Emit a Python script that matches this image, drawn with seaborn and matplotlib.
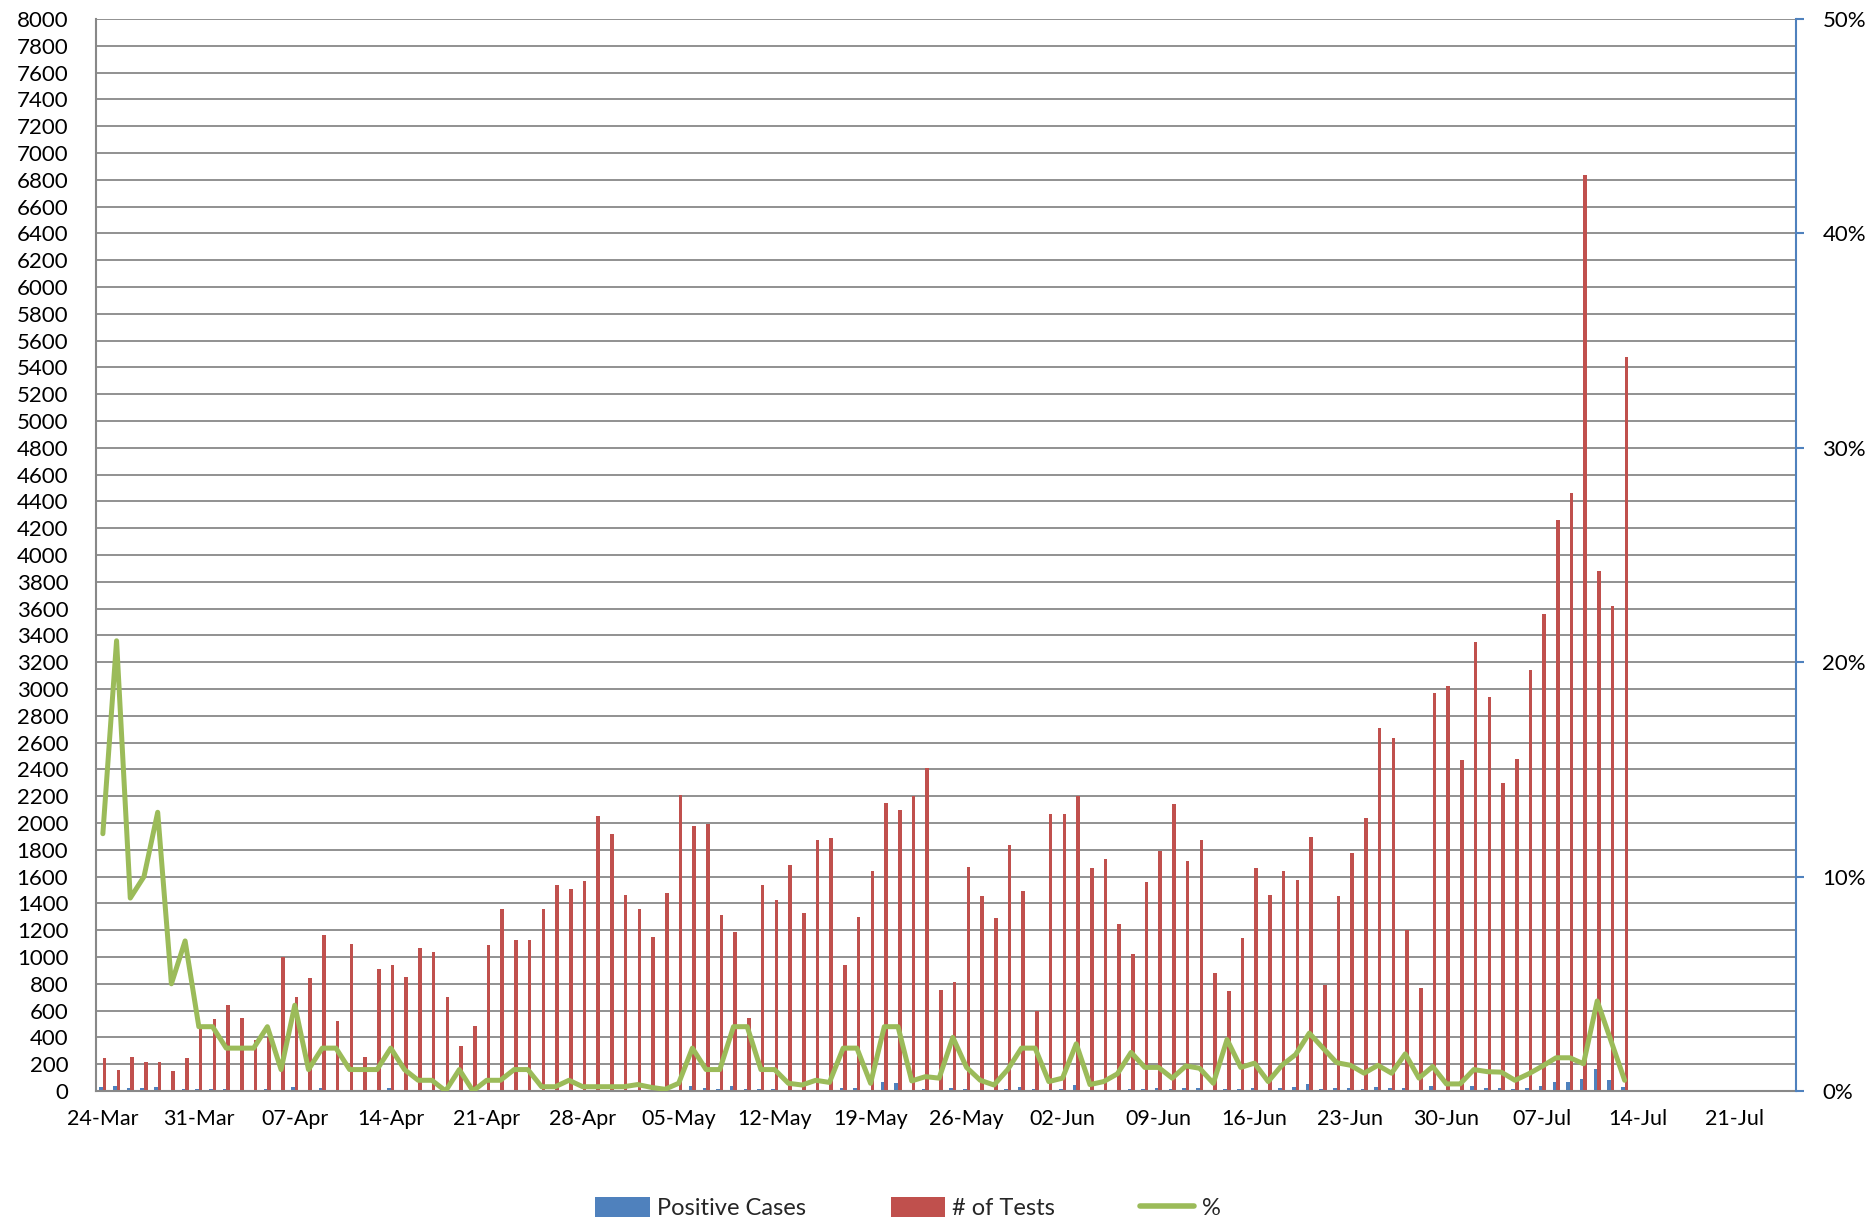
import numpy as np
import pandas as pd
import matplotlib
matplotlib.use("Agg")
import matplotlib.pyplot as plt
from matplotlib.patches import Patch
from matplotlib.lines import Line2D
import seaborn as sns

# ---------------- data ----------------
tests = [245, 160, 254, 214, 217, 149, 249, 490, 535, 642,
         545, 380, 400, 1000, 700, 840, 1165, 523, 1096, 251,
         909, 939, 852, 1068, 1038, 702, 336, 483, 1086, 1355,
         1125, 1125, 1360, 1536, 1509, 1566, 2052, 1920, 1459, 1357,
         1148, 1474, 2211, 1977, 1995, 1315, 1188, 545, 1536, 1424,
         1688, 1327, 1872, 1887, 941, 1295, 1641, 2146, 2099, 2201,
         2410, 754, 814, 1671, 1457, 1290, 1838, 1494, 595, 2067,
         2067, 2199, 1666, 1733, 1245, 1023, 1561, 1788, 2141, 1713,
         1872, 884, 745, 1140, 1666, 1459, 1641, 1574, 1895, 792,
         1454, 1778, 2037, 2709, 2637, 1198, 772, 2971, 3025, 2470,
         3352, 2938, 2301, 2478, 3140, 3557, 4263, 4466, 6833, 3882,
         3620, 5480]

positive = [29, 34, 23, 21, 28, 7, 17, 15, 16, 13,
            11, 8, 12, 10, 28, 8, 23, 10, 11, 3,
            9, 19, 9, 5, 5, 0, 3, 0, 5, 7,
            11, 11, 3, 3, 8, 3, 4, 4, 3, 4,
            2, 1, 8, 40, 20, 13, 36, 16, 15, 14,
            6, 4, 9, 8, 19, 26, 6, 64, 63, 10,
            16, 5, 20, 18, 7, 4, 18, 30, 12, 9,
            12, 48, 5, 8, 10, 18, 17, 20, 13, 20,
            20, 3, 18, 13, 22, 6, 20, 27, 51, 16,
            19, 21, 17, 33, 22, 21, 5, 34, 10, 8,
            34, 26, 20, 12, 25, 41, 66, 69, 87, 163,
            85, 27]

pct = [12.0, 21.0, 9.0, 10.0, 13.0, 5.0, 7.0, 3.0, 3.0, 2.0,
       2.0, 2.0, 3.0, 1.0, 4.0, 1.0, 2.0, 2.0, 1.0, 1.0,
       1.0, 2.0, 1.0, 0.5, 0.5, 0.0, 1.0, 0.0, 0.5, 0.5,
       1.0, 1.0, 0.2, 0.2, 0.5, 0.2, 0.2, 0.2, 0.2, 0.3,
       0.17, 0.08, 0.36, 2.0, 1.0, 1.0, 3.0, 3.0, 1.0, 1.0,
       0.36, 0.28, 0.5, 0.4, 2.0, 2.0, 0.36, 3.0, 3.0, 0.47,
       0.67, 0.6, 2.5, 1.1, 0.5, 0.28, 1.0, 2.0, 2.0, 0.44,
       0.6, 2.2, 0.3, 0.44, 0.8, 1.8, 1.1, 1.1, 0.6, 1.17,
       1.06, 0.36, 2.4, 1.1, 1.3, 0.44, 1.2, 1.7, 2.7, 2.0,
       1.32, 1.2, 0.83, 1.2, 0.83, 1.73, 0.6, 1.14, 0.33, 0.33,
       1.0, 0.9, 0.88, 0.5, 0.8, 1.16, 1.55, 1.55, 1.27, 4.2,
       2.35, 0.5]

tick_labels = ["24-Mar", "31-Mar", "07-Apr", "14-Apr", "21-Apr", "28-Apr",
               "05-May", "12-May", "19-May", "26-May", "02-Jun", "09-Jun",
               "16-Jun", "23-Jun", "30-Jun", "07-Jul", "14-Jul", "21-Jul"]

left_ticks = list(range(0, 8001, 200))
right_ticks = [0, 10, 20, 30, 40, 50]

series_names = ["Positive Cases", "# of Tests", "%"]

# ---------------- style ----------------
BLUE = "#4F81BD"
RED = "#C0504D"
GREEN = "#9BBB59"
GRID = "#888888"

sns.set_style("white")
plt.rcParams["font.family"] = ["Lato", "DejaVu Sans"]

n = len(tests)
days = np.arange(n)

df = pd.DataFrame({
    "day": np.concatenate([days, days]),
    "value": np.concatenate([positive, tests]),
    "series": [series_names[0]] * n + [series_names[1]] * n,
})

fig = plt.figure(figsize=(18.74, 12.25), dpi=100)
ax = fig.add_axes([96 / 1874, 1 - 1091 / 1225, (1796 - 96) / 1874, (1091 - 19) / 1225])

sns.barplot(data=df, x="day", y="value", hue="series",
            hue_order=series_names[:2], palette=[BLUE, RED],
            native_scale=True, width=0.52, dodge=True, errorbar=None,
            saturation=1, linewidth=0, legend=False, ax=ax)

ax.set_xlim(-0.5, 123.5)
ax.set_ylim(0, 8000)
ax.set_yticks(left_ticks)
ax.set_yticklabels([str(v) for v in left_ticks])
ax.set_xticks(np.arange(len(tick_labels)) * 7)
ax.set_xticklabels(tick_labels)
ax.set_xlabel("")
ax.set_ylabel("")
ax.set_axisbelow(True)
ax.yaxis.grid(True, color=GRID, linewidth=1.3)
ax.xaxis.grid(False)
for s in ["top", "right"]:
    ax.spines[s].set_visible(False)
for s in ["left", "bottom"]:
    ax.spines[s].set_color(GRID)
    ax.spines[s].set_linewidth(1.5)
ax.tick_params(axis="y", length=0, pad=20, labelsize=16, labelcolor="black")
ax.tick_params(axis="x", length=0, pad=13, labelsize=15.5, labelcolor="black")

ax2 = ax.twinx()
sns.lineplot(x=days, y=pct, ax=ax2, color=GREEN, linewidth=3.6,
             solid_joinstyle="round", legend=False)
ax2.set_ylim(0, 50)
ax2.set_xlim(-0.5, 123.5)
ax2.set_yticks(right_ticks)
ax2.set_yticklabels([f"{v}%" for v in right_ticks])
ax2.set_ylabel("")
for s in ["top", "left", "bottom"]:
    ax2.spines[s].set_visible(False)
ax2.spines["right"].set_color(BLUE)
ax2.spines["right"].set_linewidth(1.5)
ax2.tick_params(axis="y", length=6, width=1.5, color=BLUE, direction="out",
                pad=13, labelsize=16, labelcolor="black")

handles = [Patch(facecolor=BLUE, edgecolor="none"),
           Patch(facecolor=RED, edgecolor="none"),
           Line2D([0], [0], color=GREEN, linewidth=4)]
fig.legend(handles, series_names, loc="center", bbox_to_anchor=(0.4845, 0.0139),
           ncol=3, frameon=False, fontsize=17, handlelength=2.3, handleheight=0.9,
           handletextpad=0.3, columnspacing=3.6)

fig.savefig("out.png", dpi=100)
